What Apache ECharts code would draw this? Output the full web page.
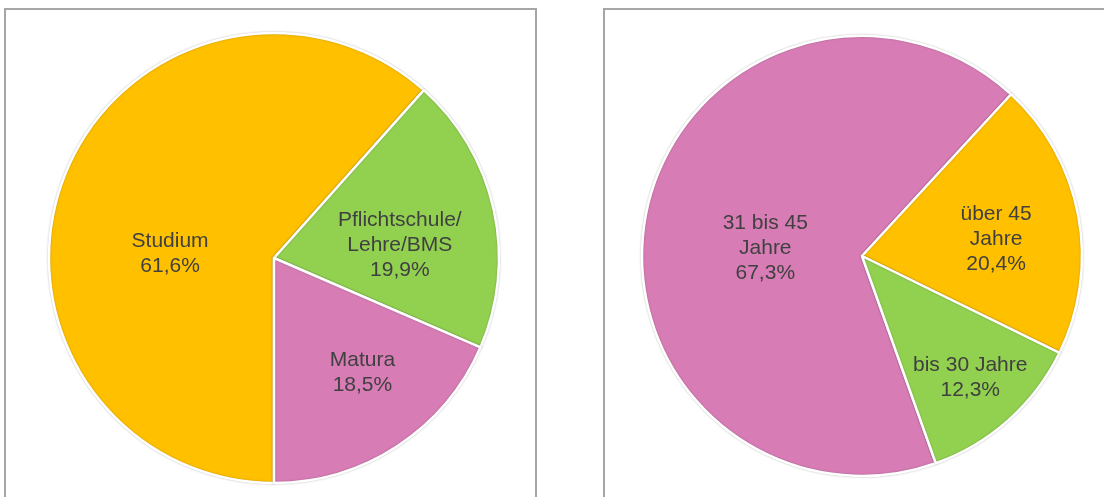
<!DOCTYPE html>
<html>
<head>
<meta charset="utf-8">
<script src="https://cdn.jsdelivr.net/npm/echarts@6/dist/echarts.min.js"></script>
<style>
html,body{margin:0;padding:0;background:#fff;}
#chart{width:1104px;height:497px;}
</style>
</head>
<body>
<div id="chart"></div>
<script>
// Left pie: Ausbildung
const eduNames = ['Studium', 'Pflichtschule/\nLehre/BMS', 'Matura'];
const eduValues = [61.6, 19.9, 18.5];
const eduColors = ['#FFC000', '#92D050', '#D77CB5'];

// Right pie: Alter
const ageNames = ['31 bis 45\nJahre', 'über 45\nJahre', 'bis 30 Jahre'];
const ageValues = [67.3, 20.4, 12.3];
const ageColors = ['#D77CB5', '#FFC000', '#92D050'];

// label nudges (style only)
const eduLabelShift = [[4, 37], [13, 12], [25, 18]];
const ageLabelShift = [[14, 15], [23, 4], [33, 37]];

function fmt(v) { return v.toFixed(1).replace('.', ',') + '%'; }

function build(names, values, colors) {
  return names.map((n, i) => ({ name: n, value: values[i], itemStyle: { color: colors[i] } }));
}

const labelStyle = {
  show: true,
  position: 'inside',
  formatter: p => p.name + '\n' + fmt(p.value),
  fontFamily: 'Liberation Sans, Arial, sans-serif',
  fontSize: 21,
  lineHeight: 25,
  color: '#404040',
  align: 'center'
};

const itemStyle = {
  borderColor: '#ffffff',
  borderWidth: 2.5,
  shadowBlur: 2,
  shadowColor: 'rgba(0,0,0,0.25)'
};

const chart = echarts.init(document.getElementById('chart'), null, { renderer: 'canvas' });
chart.setOption({
  backgroundColor: '#ffffff',
  animation: false,
  graphic: [
    { type: 'rect', shape: { x: 5, y: 9, width: 531, height: 520 }, style: { fill: 'none', stroke: '#A6A6A6', lineWidth: 2 }, z: -10 },
    { type: 'rect', shape: { x: 604, y: 9, width: 540, height: 520 }, style: { fill: 'none', stroke: '#A6A6A6', lineWidth: 2 }, z: -10 }
  ],
  series: [
    {
      type: 'pie',
      center: [274, 258],
      radius: [0, 225],
      startAngle: -90,
      clockwise: true,
      avoidLabelOverlap: false,
      itemStyle: itemStyle,
      label: labelStyle,
      labelLine: { show: false },
      emphasis: { disabled: true },
      labelLayout: p => ({ dx: eduLabelShift[p.dataIndex][0], dy: eduLabelShift[p.dataIndex][1] }),
      data: build(eduNames, eduValues, eduColors)
    },
    {
      type: 'pie',
      center: [862, 256],
      radius: [0, 220],
      startAngle: -70.4,
      clockwise: true,
      avoidLabelOverlap: false,
      itemStyle: itemStyle,
      label: labelStyle,
      labelLine: { show: false },
      emphasis: { disabled: true },
      labelLayout: p => ({ dx: ageLabelShift[p.dataIndex][0], dy: ageLabelShift[p.dataIndex][1] }),
      data: build(ageNames, ageValues, ageColors)
    }
  ]
});
</script>
</body>
</html>
